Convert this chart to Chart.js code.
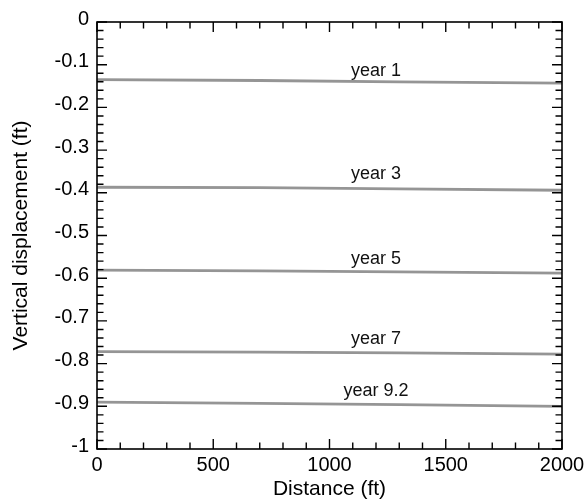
<!DOCTYPE html>
<html>
<head>
<meta charset="utf-8">
<script src="https://cdn.jsdelivr.net/npm/chart.js@4/dist/chart.umd.min.js"></script>
<style>
  html, body { margin: 0; padding: 0; background: #fff; }
  canvas { display: block; }
</style>
</head>
<body>
<canvas id="c" width="584" height="501"></canvas>
<script>
// Distance along the profile (ft)
const distance = [0, 700, 1300, 2000];

// Vertical displacement (ft) of each year's profile
const seriesNames = ['year 1', 'year 3', 'year 5', 'year 7', 'year 9.2'];
const year1  = [-0.135, -0.137, -0.140, -0.143];
const year3  = [-0.387, -0.388, -0.391, -0.394];
const year5  = [-0.581, -0.583, -0.585, -0.588];
const year7  = [-0.772, -0.773, -0.775, -0.778];
const year92 = [-0.890, -0.893, -0.896, -0.900];
const seriesValues = [year1, year3, year5, year7, year92];

// Where each curve's name sits (baseline), in axis units
const labelDistance = 1200;
const labelDisplacement = [-0.1256, -0.368, -0.567, -0.7547, -0.8756];

// Axis ranges and tick steps
const xRange = [0, 2000];
const yRange = [-1, 0];
const xMajorStep = 500, xMinorStep = 100;
const yMajorStep = 0.1, yMinorStep = 0.02;

const FONT = '"Liberation Sans", Arial, Helvetica, sans-serif';

const datasets = seriesValues.map((vals, i) => ({
  label: seriesNames[i],
  data: distance.map((d, j) => ({ x: d, y: vals[j] })),
  showLine: true,
  borderColor: '#959595',
  borderWidth: 2.8,
  pointRadius: 0,
  pointHoverRadius: 0,
  tension: 0,
  fill: false
}));

// Frame around the plot plus inward major/minor ticks on all four sides
const frameAndTicks = {
  id: 'frameAndTicks',
  afterDraw(chart) {
    const { ctx, chartArea: a, scales } = chart;
    const xs = scales.x, ys = scales.y;
    ctx.save();
    ctx.strokeStyle = '#000';
    ctx.lineWidth = 1.4;
    ctx.beginPath();
    const nx = Math.round((xRange[1] - xRange[0]) / xMinorStep);
    for (let k = 0; k <= nx; k++) {
      const v = xRange[0] + k * xMinorStep;
      const px = xs.getPixelForValue(v);
      const major = Math.abs(v / xMajorStep - Math.round(v / xMajorStep)) < 1e-6;
      const len = major ? 10 : 6.5;
      ctx.moveTo(px, a.bottom); ctx.lineTo(px, a.bottom - len);
      ctx.moveTo(px, a.top); ctx.lineTo(px, a.top + len);
    }
    const ny = Math.round((yRange[1] - yRange[0]) / yMinorStep);
    for (let k = 0; k <= ny; k++) {
      const v = yRange[0] + k * yMinorStep;
      const py = ys.getPixelForValue(v);
      const major = Math.abs(v / yMajorStep - Math.round(v / yMajorStep)) < 1e-6;
      const len = major ? 10 : 6.5;
      ctx.moveTo(a.left, py); ctx.lineTo(a.left + len, py);
      ctx.moveTo(a.right, py); ctx.lineTo(a.right - len, py);
    }
    ctx.stroke();
    ctx.lineWidth = 1.6;
    ctx.strokeRect(a.left, a.top, a.right - a.left, a.bottom - a.top);
    ctx.restore();
  }
};

// Curve names written above each profile
const curveLabels = {
  id: 'curveLabels',
  afterDatasetsDraw(chart) {
    const { ctx, scales } = chart;
    ctx.save();
    ctx.fillStyle = '#111';
    ctx.font = '18px ' + FONT;
    ctx.textAlign = 'center';
    ctx.textBaseline = 'alphabetic';
    seriesNames.forEach((name, i) => {
      ctx.fillText(name,
        scales.x.getPixelForValue(labelDistance),
        scales.y.getPixelForValue(labelDisplacement[i]));
    });
    ctx.restore();
  }
};

new Chart(document.getElementById('c'), {
  type: 'scatter',
  data: { datasets },
  options: {
    responsive: false,
    devicePixelRatio: 1,
    animation: false,
    events: [],
    layout: { padding: { left: 0, top: 22, right: 22, bottom: 0 } },
    plugins: { legend: { display: false }, tooltip: { enabled: false } },
    scales: {
      x: {
        type: 'linear',
        min: xRange[0], max: xRange[1],
        grid: { display: false, drawTicks: false },
        border: { display: false },
        ticks: {
          stepSize: xMajorStep,
          color: '#000',
          padding: 4,
          maxRotation: 0,
          font: { family: FONT, size: 20 },
          callback: v => String(v)
        },
        title: {
          display: true,
          text: 'Distance (ft)',
          color: '#000',
          font: { family: FONT, size: 21 },
          padding: { top: 0, bottom: -1 }
        },
        afterFit(scale) {
          scale.height = 52;
          scale.paddingLeft = 0;
          scale.paddingRight = 0;
        }
      },
      y: {
        type: 'linear',
        min: yRange[0], max: yRange[1],
        grid: { display: false, drawTicks: false },
        border: { display: false },
        ticks: {
          stepSize: yMajorStep,
          color: '#000',
          padding: 8,
          labelOffset: -3,
          font: { family: FONT, size: 20 },
          callback: v => String(Math.round(v * 10) / 10)
        },
        title: {
          display: true,
          text: 'Vertical displacement (ft)',
          color: '#000',
          font: { family: FONT, size: 21 },
          padding: { top: 9, bottom: 0 }
        },
        afterFit(scale) {
          scale.width = 97;
          scale.paddingTop = 0;
          scale.paddingBottom = 0;
        }
      }
    }
  },
  plugins: [frameAndTicks, curveLabels]
});
</script>
</body>
</html>
